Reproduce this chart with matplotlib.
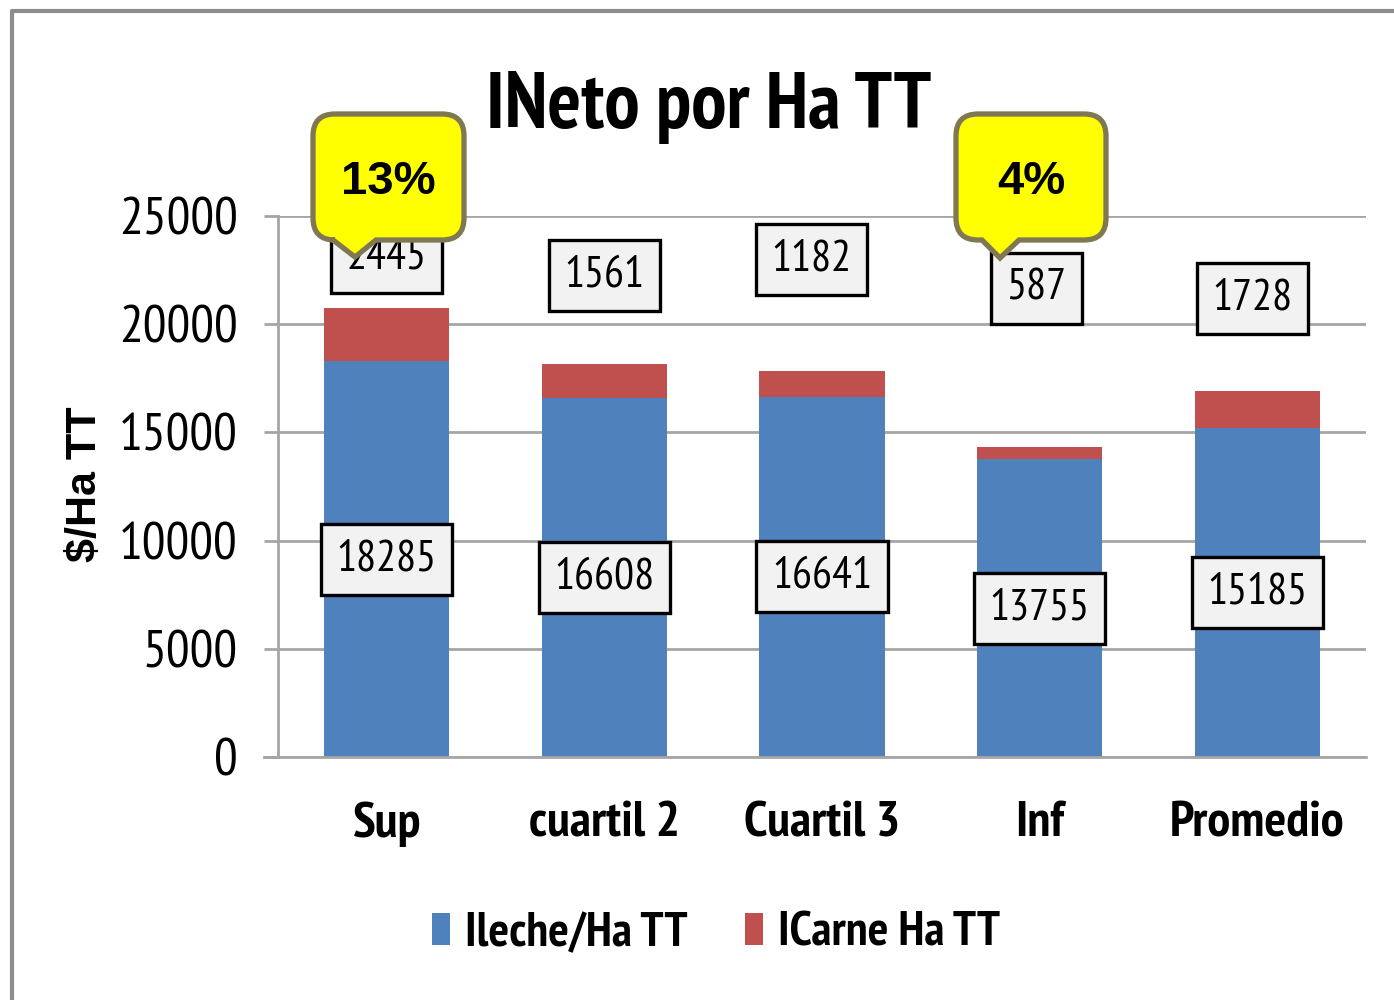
import matplotlib
matplotlib.use("Agg")
import matplotlib.pyplot as plt
from matplotlib.path import Path
from matplotlib.patches import PathPatch, Patch
from matplotlib.transforms import Affine2D
from matplotlib.lines import Line2D

# --- data ---
categories = ["Sup", "cuartil 2", "Cuartil 3", "Inf", "Promedio"]
leche = [18285, 16608, 16641, 13755, 15185]
carne = [2445, 1561, 1182, 587, 1728]
series_names = ["Ileche/Ha TT", "ICarne Ha TT"]
yticks = [0, 5000, 10000, 15000, 20000, 25000]

# where the ICarne labels were placed (above each bar)
carne_label_y = [23100, 22270, 22970, 21630, 21170]
carne_label_dx = [0.0, 0.0, -0.05, -0.015, -0.02]

# callouts: category index they point at
callout_idx = [0, 3]

NARROW = ["PT Sans Narrow", "Liberation Sans"]
WIDE = ["Liberation Sans", "DejaVu Sans"]

BLUE = "#4f81bd"
RED = "#c0504d"
GRID = "#a6a6a6"

fig = plt.figure(figsize=(13.94, 10), dpi=100)
ax = fig.add_axes([278 / 1394, 1 - 757 / 1000, (1366 - 278) / 1394, (757 - 216) / 1000])

# pixel transform (origin top-left) for the decorations
px = Affine2D().scale(1 / 1394, -1 / 1000).translate(0, 1) + fig.transFigure

x = list(range(len(categories)))
ax.bar(x, leche, width=0.575, color=BLUE, zorder=2)
ax.bar(x, carne, width=0.575, bottom=leche, color=RED, zorder=2)

ax.set_xlim(-0.5, len(categories) - 0.5)
ax.set_ylim(0, 25000)
ax.set_yticks(yticks)
ax.set_yticklabels([str(v) for v in yticks], fontfamily=NARROW, fontsize=38)
ax.set_xticks(x)
ax.set_xticklabels(categories, fontfamily=NARROW, fontsize=37, fontweight="bold")
ax.tick_params(axis="x", length=0, pad=32)
ax.tick_params(axis="y", length=10, width=2, color=GRID, pad=19)
ax.yaxis.grid(True, color=GRID, linewidth=2, zorder=0)
ax.set_axisbelow(True)
for s in ["top", "right"]:
    ax.spines[s].set_visible(False)
for s in ["left", "bottom"]:
    ax.spines[s].set_color(GRID)
    ax.spines[s].set_linewidth(2)
ax.spines["bottom"].set_bounds(-0.5 - 14 / 217.6, len(categories) - 0.5)
ax.spines["bottom"].set_clip_on(False)

box = dict(boxstyle="square,pad=0.35", facecolor="#f2f2f2", edgecolor="black", linewidth=2.4)
for i in x:
    ax.text(i, leche[i] / 2, str(leche[i]), ha="center", va="center",
            fontfamily=NARROW, fontsize=32, bbox=box, zorder=4)
    ax.text(i + carne_label_dx[i], carne_label_y[i], str(carne[i]), ha="center", va="center",
            fontfamily=NARROW, fontsize=32, bbox=box, zorder=4)

# title and y label
fig.text(709 / 1394, 1 - 108 / 1000, "INeto por Ha TT", ha="center", va="center",
         fontfamily=NARROW, fontsize=57, fontweight="bold")
fig.text(85 / 1394, 1 - 484 / 1000, "$/Ha TT", ha="center", va="center", rotation=90,
         fontfamily=WIDE, fontsize=31, fontweight="bold")


def callout_path(x0, y0, x1, y1, r, tl, tr, tip):
    verts = [(x0 + r, y0), (x1 - r, y0), (x1, y0), (x1, y0 + r), (x1, y1 - r), (x1, y1),
             (x1 - r, y1), (tr, y1), tip, (tl, y1), (x0 + r, y1), (x0, y1), (x0, y1 - r),
             (x0, y0 + r), (x0, y0), (x0 + r, y0), (x0 + r, y0)]
    codes = [Path.MOVETO, Path.LINETO, Path.CURVE3, Path.CURVE3, Path.LINETO, Path.CURVE3,
             Path.CURVE3, Path.LINETO, Path.LINETO, Path.LINETO, Path.LINETO, Path.CURVE3,
             Path.CURVE3, Path.LINETO, Path.CURVE3, Path.CURVE3, Path.CLOSEPOLY]
    return Path(verts, codes)


callout_boxes = [
    (313, 114, 464, 240, 22, 333, 376, (355, 257)),
    (956, 114, 1106, 240, 22, 982, 1019, (1000, 258)),
]
for idx, (x0, y0, x1, y1, r, tl, tr, tip) in zip(callout_idx, callout_boxes):
    pct = round(carne[idx] / leche[idx] * 100)
    fig.patches.append(PathPatch(callout_path(x0, y0, x1, y1, r, tl, tr, tip), transform=px,
                                 facecolor="#ffff00", edgecolor="#7f7853", linewidth=3.8, zorder=5))
    fig.text((x0 + x1) / 2 / 1394, 1 - ((y0 + y1) / 2 + 5) / 1000, f"{pct}%", ha="center", va="center",
             fontfamily=WIDE, fontsize=34, fontweight="bold", zorder=6)

# outer frame (left and top edges)
fig.lines.append(Line2D([12, 12, 1400], [1010, 11, 11], transform=px, color="#8c8c8c", linewidth=3))

handles = [Patch(facecolor=BLUE), Patch(facecolor=RED)]
fig.legend(handles, series_names, loc="center", bbox_to_anchor=(716 / 1394, 1 - 934 / 1000), ncol=2,
           frameon=False, prop={"family": NARROW, "size": 35, "weight": "bold"},
           handlelength=0.37, handleheight=0.62, handletextpad=0.3, columnspacing=1.2)

fig.savefig("out.png", dpi=100)
